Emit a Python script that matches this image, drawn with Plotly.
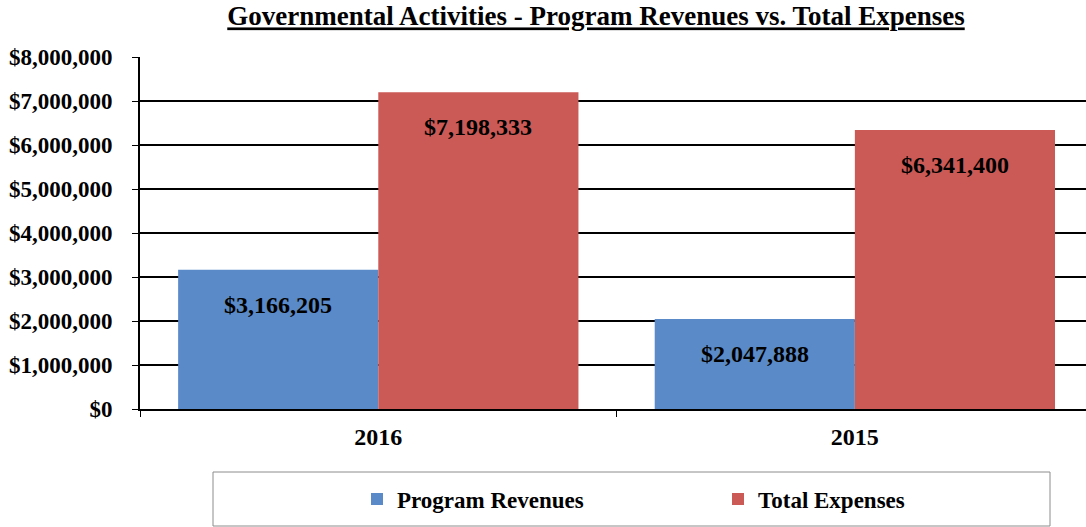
import plotly.graph_objects as go

categories = ["2016", "2015"]
program_revenues = [3166205, 2047888]
total_expenses = [7198333, 6341400]
series_names = ["Program Revenues", "Total Expenses"]
tick_values = [0, 1000000, 2000000, 3000000, 4000000, 5000000, 6000000, 7000000, 8000000]
tick_labels = ["$0", "$1,000,000", "$2,000,000", "$3,000,000", "$4,000,000",
               "$5,000,000", "$6,000,000", "$7,000,000", "$8,000,000"]
title_text = "Governmental Activities - Program Revenues vs. Total Expenses"

FONT = "Liberation Serif"
BLUE = "#5A8AC7"
RED = "#CB5A56"

W, H = 1086, 527
ML, MR, MT, MB = 140, 0, 57, 118
BARGAP = 0.16
X_RANGE = [-0.5, 1.485]
plot_w = W - ML - MR
plot_h = H - MT - MB
cat_w = plot_w / (X_RANGE[1] - X_RANGE[0])
bar_w = cat_w * (1 - BARGAP) / 2

fig = go.Figure()
fig.add_trace(go.Bar(
    x=categories, y=program_revenues, name=series_names[0],
    marker=dict(color=BLUE, line=dict(width=0)),
))
fig.add_trace(go.Bar(
    x=categories, y=total_expenses, name=series_names[1],
    marker=dict(color=RED, line=dict(width=0)),
))

label_font = dict(family=FONT, size=24, color="black", weight="bold")
annotations = []
for series, shift in ((program_revenues, -bar_w / 2), (total_expenses, bar_w / 2)):
    for idx, val in enumerate(series):
        annotations.append(dict(
            x=idx, y=val, xref="x", yref="y", text="$" + f"{val:,}",
            showarrow=False, xshift=shift, yshift=-35,
            xanchor="center", yanchor="middle", font=label_font,
        ))

fig.update_layout(
    template="none",
    width=W, height=H,
    margin=dict(l=ML, r=MR, t=MT, b=MB, pad=0),
    paper_bgcolor="white", plot_bgcolor="white",
    barmode="group", bargap=BARGAP, bargroupgap=0,
    font=dict(family=FONT, color="black"),
    title=dict(
        text=title_text, x=596 / W, xanchor="center",
        y=1 - 16 / H, yanchor="middle", pad=dict(t=0, b=0, l=0, r=0),
        font=dict(family=FONT, size=27, color="black", weight="bold",
                  lineposition="under"),
    ),
    showlegend=True,
    legend=dict(
        orientation="h", x=(357 - ML) / plot_w, xanchor="left",
        y=(409 - 499) / plot_h, yanchor="middle",
        entrywidth=316, entrywidthmode="pixels",
        font=dict(family=FONT, size=23, color="black", weight="bold"),
        bgcolor="rgba(0,0,0,0)", borderwidth=0,
    ),
    annotations=annotations,
    shapes=[dict(
        type="rect", xref="paper", yref="paper",
        x0=(213 - ML) / plot_w, x1=(1050 - ML) / plot_w,
        y0=(409 - 526) / plot_h, y1=(409 - 472) / plot_h,
        line=dict(color="#8C8C8C", width=1), fillcolor="rgba(0,0,0,0)",
        layer="below",
    )],
)

fig.update_xaxes(
    type="category", range=X_RANGE, automargin=False,
    showline=True, linecolor="black", linewidth=2,
    ticks="outside", tickson="boundaries", ticklen=6, tickcolor="black", tickwidth=1,
    ticklabelstandoff=5,
    tickfont=dict(family=FONT, size=24, color="black", weight="bold"),
    showgrid=False, zeroline=False,
)
fig.update_yaxes(
    range=[0, 8000000], tickvals=tick_values, ticktext=tick_labels, automargin=False,
    showline=True, linecolor="black", linewidth=2,
    ticks="outside", ticklen=6, tickcolor="black", tickwidth=1,
    ticklabelstandoff=15,
    tickfont=dict(family=FONT, size=23, color="black", weight="bold"),
    showgrid=True, gridcolor="black", gridwidth=2, zeroline=False,
)

fig.write_html(
    "out.html",
    config={"displayModeBar": False},
    post_script="document.body.style.margin='0';document.body.style.padding='0';",
)
